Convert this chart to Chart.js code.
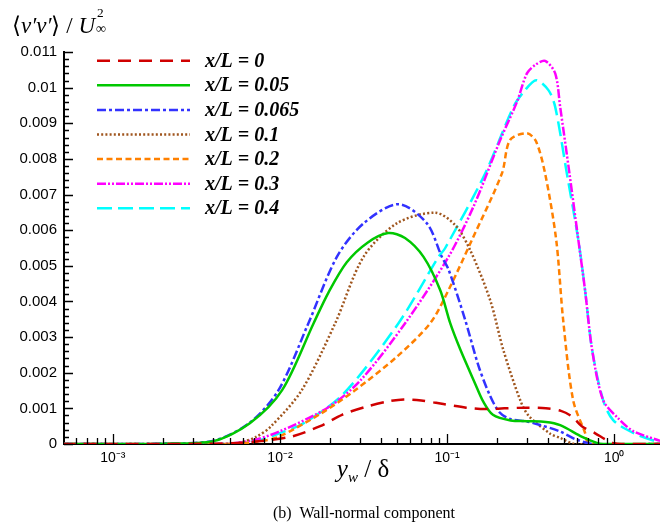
<!DOCTYPE html>
<html><head><meta charset="utf-8">
<script src="https://cdn.jsdelivr.net/npm/chart.js@4.4.1/dist/chart.umd.min.js"></script>
<style>
html,body{margin:0;padding:0;background:#fff;}
#wrap{position:relative;width:660px;height:529px;overflow:hidden;background:#fff;}
canvas{position:absolute;left:0;top:0;}
.t{position:absolute;font-family:"Liberation Serif","Times New Roman",serif;color:#000;white-space:nowrap;line-height:1;}
#ytitle{left:12px;top:10px;font-size:23px;}
#xtitle{left:263px;width:200px;text-align:center;top:456px;font-size:25px;}
#caption{left:214px;width:300px;text-align:center;top:505px;font-size:16px;}
.ss{position:relative;display:inline-block;width:14px;height:1em;}
.ss .up{position:absolute;left:2px;top:-0.28em;font-size:0.58em;}
.ss .dn{position:absolute;left:1px;top:0.78em;font-size:0.62em;}
sub.w{font-size:0.6em;vertical-align:-0.35em;}
</style>
</head>
<body>
<div id="wrap">
<canvas id="c" width="660" height="529"></canvas>
<div class="t" id="ytitle">⟨<i>v′v′</i>⟩ / <i>U</i><span class="ss"><span class="up">2</span><span class="dn">∞</span></span></div>
<div class="t" id="xtitle"><i>y</i><sub class="w"><i>w</i></sub> / δ</div>
<div class="t" id="caption">(b)&nbsp; Wall-normal component</div>
</div>
<script>
// ---- data ----
const seriesLabels = ['x/L = 0','x/L = 0.05','x/L = 0.065','x/L = 0.1','x/L = 0.2','x/L = 0.3','x/L = 0.4'];

const yw_00  = [5e-4, 0.002, 0.004, 0.0066, 0.0115, 0.0174, 0.0235, 0.033, 0.045, 0.055, 0.07, 0.095, 0.13, 0.17, 0.22, 0.3, 0.39, 0.48, 0.56, 0.64, 0.77, 0.9, 1.0, 1.1, 1.9];
const vv_00  = [0, 0, 0.00001, 0.00005, 0.0002, 0.0005, 0.00082, 0.00105, 0.0012, 0.00125, 0.00122, 0.00112, 0.00102, 0.00098, 0.001, 0.00102, 0.001, 0.00093, 0.00077, 0.0005, 0.0003, 0.00011, 0.00002, 0, 0];

const yw_005 = [5e-4, 0.002, 0.004, 0.0066, 0.0103, 0.0159, 0.0195, 0.0251, 0.0334, 0.0444, 0.056, 0.0723, 0.0909, 0.1044, 0.12, 0.147, 0.165, 0.188, 0.24, 0.3, 0.39, 0.475, 0.643, 0.787, 0.86, 1.9];
const vv_005 = [0, 0.00001, 0.00008, 0.00058, 0.00151, 0.00339, 0.00425, 0.0051, 0.00565, 0.00592, 0.00578, 0.00525, 0.00432, 0.00339, 0.00265, 0.0017, 0.00118, 0.00082, 0.00066, 0.00064, 0.00062, 0.00053, 0.0002, 0.00003, 0, 0];

const yw_0065 = [5e-4, 0.002, 0.004, 0.0066, 0.0098, 0.0148, 0.0219, 0.0316, 0.0512, 0.0757, 0.0931, 0.102, 0.128, 0.154, 0.179, 0.205, 0.239, 0.3, 0.356, 0.475, 0.583, 0.748, 1.9];
const vv_0065 = [0, 0.00001, 0.00009, 0.0006, 0.00151, 0.00339, 0.00525, 0.00619, 0.00673, 0.00619, 0.00525, 0.0049, 0.0035, 0.0022, 0.0014, 0.0009, 0.0007, 0.00063, 0.00054, 0.00035, 0.00014, 0, 0];

const yw_01  = [5e-4, 0.004, 0.0055, 0.0072, 0.00885, 0.0135, 0.0214, 0.0316, 0.05, 0.0849, 0.112, 0.1375, 0.181, 0.217, 0.274, 0.308, 0.414, 0.475, 0.583, 1.9];
const vv_01  = [0, 0, 0.00002, 0.0002, 0.0005, 0.00151, 0.00339, 0.00525, 0.00619, 0.00649, 0.00614, 0.00544, 0.00404, 0.00264, 0.00123, 0.00079, 0.00029, 0.00017, 0, 0];

const yw_02  = [5e-4, 0.0052, 0.0076, 0.0098, 0.0175, 0.028, 0.0501, 0.0793, 0.102, 0.1406, 0.2128, 0.238, 0.3005, 0.34, 0.386, 0.45, 0.495, 0.568, 0.67, 0.708, 1.9];
const vv_02  = [0, 0, 0.00008, 0.0002, 0.00085, 0.0015, 0.00245, 0.00339, 0.00432, 0.00572, 0.00759, 0.00853, 0.00872, 0.0085, 0.00759, 0.00572, 0.00348, 0.00123, 0.00031, 0, 0];

const yw_03  = [5e-4, 0.0043, 0.0065, 0.0098, 0.0196, 0.0305, 0.0561, 0.1019, 0.1438, 0.2079, 0.262, 0.3005, 0.34, 0.386, 0.4436, 0.475, 0.54, 0.6105, 0.67, 0.738, 0.859, 1.057, 1.3, 1.885];
const vv_03  = [0, 0, 0.00008, 0.00034, 0.00104, 0.0018, 0.00339, 0.00525, 0.00666, 0.00853, 0.0096, 0.0104, 0.01065, 0.01075, 0.0104, 0.00946, 0.00759, 0.00572, 0.0043, 0.00264, 0.00123, 0.00072, 0.00036, 0.00009];

const yw_04  = [5e-4, 0.0047, 0.0076, 0.0098, 0.0138, 0.0239, 0.0512, 0.0888, 0.0975, 0.169, 0.2495, 0.293, 0.341, 0.404, 0.4436, 0.521, 0.6105, 0.67, 0.738, 0.859, 0.986, 1.3, 1.8, 1.9];
const vv_04  = [0, 0, 0.00011, 0.00029, 0.00058, 0.0014, 0.00339, 0.00525, 0.0055, 0.00759, 0.00946, 0.00993, 0.01021, 0.00993, 0.00946, 0.00759, 0.00572, 0.0043, 0.00264, 0.00123, 0.00067, 0.00031, 0.000065, 0.00006];

const xTickValues = [1e-3, 1e-2, 1e-1, 1];
const xTickLabels = ['10⁻³', '10⁻²', '10⁻¹', '10⁰'];
const yTickStep = 0.001;

// ---- styles ----
const colors = ['#d00000', '#00c800', '#3232ff', '#a0561e', '#ff8000', '#ff00ff', '#00ffff'];
const dashes = [[13,8], [], [9,3,3,3], [2,2.2], [6,3.5], [9,2,2,2,2,2], [15,6]];

const xs = [yw_00, yw_005, yw_0065, yw_01, yw_02, yw_03, yw_04];
const ys = [vv_00, vv_005, vv_0065, vv_01, vv_02, vv_03, vv_04];

const datasets = seriesLabels.map((lab, i) => ({
  label: lab,
  data: xs[i].map((x, k) => ({x: x, y: ys[i][k]})),
  borderColor: colors[i],
  borderDash: dashes[i],
  borderWidth: 2.5,
  pointRadius: 0,
  fill: false,
  tension: 0.3
}));

const extras = {
  id: 'extras',
  afterDraw(chart) {
    const {ctx, chartArea: a, scales: {x, y}} = chart;
    ctx.save();
    ctx.strokeStyle = '#000';
    ctx.lineWidth = 1.3;
    ctx.setLineDash([]);
    ctx.beginPath();
    for (let e = -4; e <= 0; e++) {
      for (let m = 1; m <= 9; m++) {
        const v = m * Math.pow(10, e);
        if (v < x.min || v > x.max) continue;
        const px = Math.round(x.getPixelForValue(v)) + 0.5;
        const len = m === 1 ? 10 : 6;
        ctx.moveTo(px, a.bottom);
        ctx.lineTo(px, a.bottom - len);
      }
    }
    for (let i = 0; i <= 55; i++) {
      const v = i * yTickStep / 5;
      const py = Math.round(y.getPixelForValue(v)) + 0.5;
      const len = i % 5 === 0 ? 9 : 5;
      ctx.moveTo(a.left, py);
      ctx.lineTo(a.left + len, py);
    }
    ctx.stroke();
    // legend
    chart.data.datasets.forEach((ds, i) => {
      const yy = 60.7 + i * 24.6;
      ctx.strokeStyle = ds.borderColor;
      ctx.lineWidth = ds.borderWidth;
      ctx.setLineDash(ds.borderDash || []);
      ctx.beginPath();
      ctx.moveTo(97, yy);
      ctx.lineTo(190, yy);
      ctx.stroke();
      ctx.setLineDash([]);
      ctx.fillStyle = '#000';
      ctx.font = 'italic bold 20px "Liberation Serif"';
      ctx.textBaseline = 'middle';
      ctx.textAlign = 'left';
      ctx.fillText(ds.label, 205, yy + 1);
    });
    ctx.restore();
  }
};

new Chart(document.getElementById('c'), {
  type: 'line',
  data: { datasets: datasets },
  plugins: [extras],
  options: {
    responsive: false,
    animation: false,
    layout: { padding: { left: 0, right: 0, top: 52, bottom: 0 } },
    plugins: { legend: { display: false }, tooltip: { enabled: false } },
    scales: {
      x: {
        type: 'logarithmic',
        min: 5.1e-4,
        max: 1.88,
        afterBuildTicks: s => { s.ticks = xTickValues.map(v => ({value: v})); },
        afterFit: s => { s.height = 85; },
        ticks: {
          autoSkip: false, maxRotation: 0, padding: 6, color: '#000',
          font: { family: 'Liberation Sans', size: 14 },
          callback: (v) => { const i = xTickValues.findIndex(t => Math.abs(t - v) / t < 1e-6); return i >= 0 ? xTickLabels[i] : ''; }
        },
        grid: { drawOnChartArea: false, drawTicks: false },
        border: { color: '#000', width: 2 }
      },
      y: {
        min: 0,
        max: 0.011,
        afterFit: s => { s.width = 64; },
        ticks: {
          stepSize: yTickStep, padding: 7, color: '#000',
          font: { family: 'Liberation Sans', size: 15 },
          callback: v => String(Number(v.toFixed(3)))
        },
        grid: { drawOnChartArea: false, drawTicks: false },
        border: { color: '#000', width: 2 }
      }
    }
  }
});
</script>
</body></html>
